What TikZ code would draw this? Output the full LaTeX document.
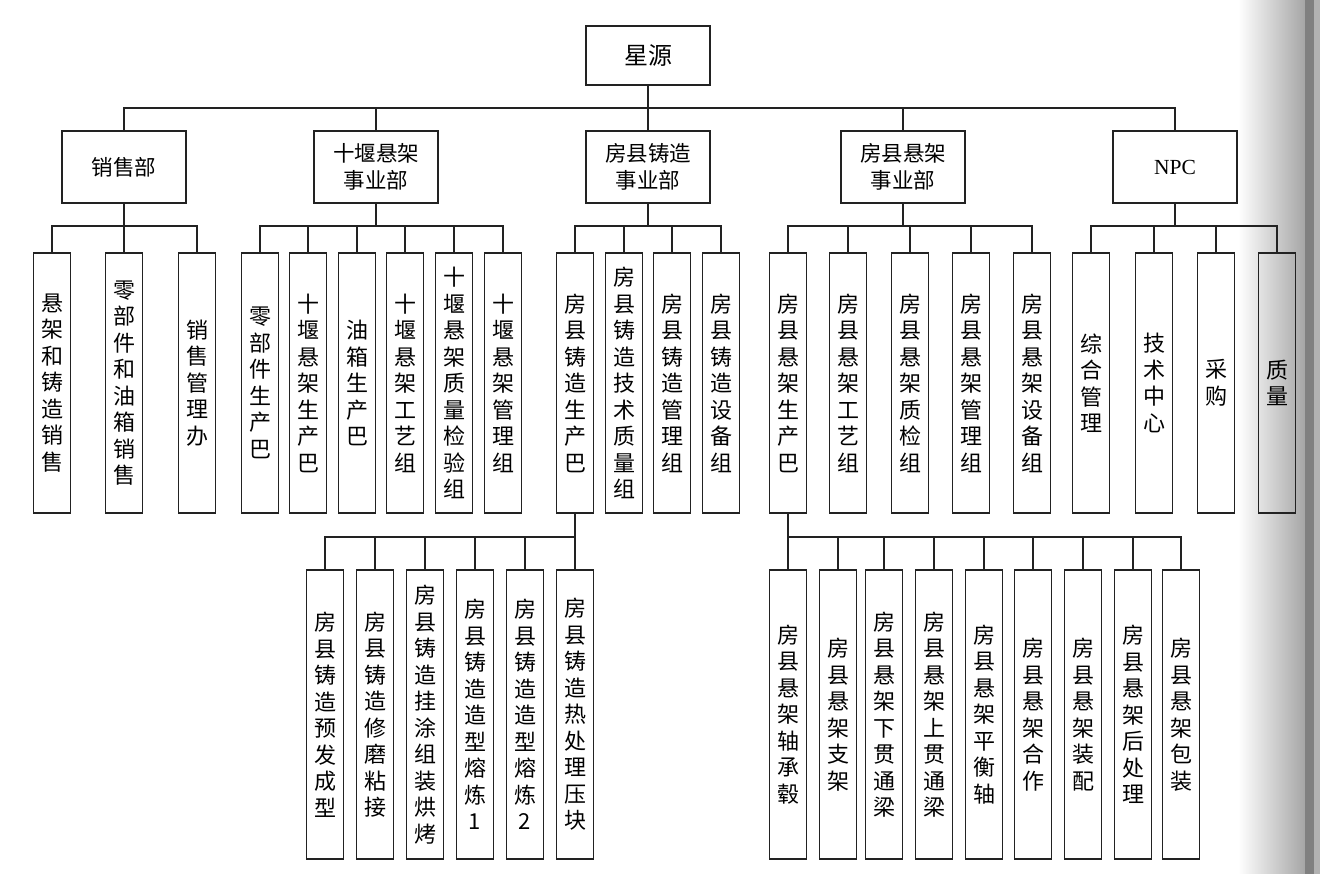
\documentclass[tikz,border=0pt]{standalone}
\usepackage{fontspec}
\setmainfont{Noto Sans CJK SC}
\newfontfamily\latinserif{Liberation Serif}
\ExplSyntaxOn
\NewDocumentCommand\vt{m}{\vbox{\baselineskip=26.5pt\lineskiplimit=-100pt\tl_map_inline:nn{#1}{\hbox_to_wd:nn{1.2em}{\hss##1\hss}}}}
\ExplSyntaxOff
\definecolor{ink}{HTML}{222222}
\tikzset{
  topbox/.style={draw=ink,line width=1.8pt,minimum width=124pt,minimum height=59pt,inner sep=0pt,font=\fontsize{24}{27}\selectfont},
  deptbox/.style={draw=ink,line width=1.8pt,minimum width=124pt,minimum height=72pt,inner sep=0pt,align=center,font=\fontsize{21.5}{27}\selectfont},
  tallbox/.style={draw=ink,line width=1.8pt,minimum width=37pt,minimum height=260pt,inner sep=0pt,font=\fontsize{22}{26}\selectfont},
  lowbox/.style={draw=ink,line width=1.8pt,minimum width=37pt,minimum height=289pt,inner sep=0pt,font=\fontsize{22}{26}\selectfont},
  link/.style={draw=ink,line width=1.5pt}
}
\begin{document}
\begin{tikzpicture}[x=1pt,y=-1pt]
\useasboundingbox (0,0) rectangle (1320,874);
\fill[white] (0,0) rectangle (1320,874);
% page edge shadow
\shade[left color=white,right color=black!35] (1238,0) rectangle (1305,874);
\fill[black!50] (1305,0) rectangle (1320,874);
\fill[black!30] (1314,0) rectangle (1320,874);

% root
\node[topbox] (root) at (648,55.5) {星源};

% level 1
\node[deptbox] (sales) at (124,167) {销售部};
\node[deptbox] (sy) at (376,167) {十堰悬架\\事业部};
\node[deptbox] (fz) at (648,167) {房县铸造\\事业部};
\node[deptbox] (fx) at (903,167) {房县悬架\\事业部};
\node[deptbox] (npc) at (1175,167) {\latinserif NPC};

\coordinate (b0) at (648,108);
\draw[link] (root.south) -- (b0);
\foreach \c in {sales,sy,fz,fx,npc} \draw[link] (b0) -| (\c.north);

% level 2
\node[tallbox] (s1) at (52,383) {\vt{悬架和铸造销售}};
\node[tallbox] (s2) at (124,383) {\vt{零部件和油箱销售}};
\node[tallbox] (s3) at (197,383) {\vt{销售管理办}};

\node[tallbox] (y1) at (260,383) {\vt{零部件生产巴}};
\node[tallbox] (y2) at (308,383) {\vt{十堰悬架生产巴}};
\node[tallbox] (y3) at (357,383) {\vt{油箱生产巴}};
\node[tallbox] (y4) at (405,383) {\vt{十堰悬架工艺组}};
\node[tallbox] (y5) at (454,383) {\vt{十堰悬架质量检验组}};
\node[tallbox] (y6) at (503,383) {\vt{十堰悬架管理组}};

\node[tallbox] (z1) at (575,383) {\vt{房县铸造生产巴}};
\node[tallbox] (z2) at (624,383) {\vt{房县铸造技术质量组}};
\node[tallbox] (z3) at (672,383) {\vt{房县铸造管理组}};
\node[tallbox] (z4) at (721,383) {\vt{房县铸造设备组}};

\node[tallbox] (x1) at (788,383) {\vt{房县悬架生产巴}};
\node[tallbox] (x2) at (848,383) {\vt{房县悬架工艺组}};
\node[tallbox] (x3) at (910,383) {\vt{房县悬架质检组}};
\node[tallbox] (x4) at (971,383) {\vt{房县悬架管理组}};
\node[tallbox] (x5) at (1032,383) {\vt{房县悬架设备组}};

\node[tallbox] (n1) at (1091,383) {\vt{综合管理}};
\node[tallbox] (n2) at (1154,383) {\vt{技术中心}};
\node[tallbox] (n3) at (1216,383) {\vt{采购}};
\node[tallbox] (n4) at (1277,383) {\vt{质量}};

\coordinate (b1) at (124,226);
\draw[link] (sales.south) -- (b1);
\foreach \c in {s1,s2,s3} \draw[link] (b1) -| (\c.north);
\coordinate (b2) at (376,226);
\draw[link] (sy.south) -- (b2);
\foreach \c in {y1,y2,y3,y4,y5,y6} \draw[link] (b2) -| (\c.north);
\coordinate (b3) at (648,226);
\draw[link] (fz.south) -- (b3);
\foreach \c in {z1,z2,z3,z4} \draw[link] (b3) -| (\c.north);
\coordinate (b4) at (903,226);
\draw[link] (fx.south) -- (b4);
\foreach \c in {x1,x2,x3,x4,x5} \draw[link] (b4) -| (\c.north);
\coordinate (b5) at (1175,226);
\draw[link] (npc.south) -- (b5);
\foreach \c in {n1,n2,n3,n4} \draw[link] (b5) -| (\c.north);

% level 3: casting production
\node[lowbox] (c1) at (325,714.5) {\vt{房县铸造预发成型}};
\node[lowbox] (c2) at (375,714.5) {\vt{房县铸造修磨粘接}};
\node[lowbox] (c3) at (425,714.5) {\vt{房县铸造挂涂组装烘烤}};
\node[lowbox] (c4) at (475,714.5) {\vt{房县铸造造型熔炼1}};
\node[lowbox] (c5) at (525,714.5) {\vt{房县铸造造型熔炼2}};
\node[lowbox] (c6) at (575,714.5) {\vt{房县铸造热处理压块}};

\coordinate (b6) at (575,537);
\draw[link] (z1.south) -- (b6);
\foreach \c in {c1,c2,c3,c4,c5,c6} \draw[link] (b6) -| (\c.north);

% level 3: suspension production
\node[lowbox] (p1) at (788,714.5) {\vt{房县悬架轴承毂}};
\node[lowbox] (p2) at (838,714.5) {\vt{房县悬架支架}};
\node[lowbox] (p3) at (884,714.5) {\vt{房县悬架下贯通梁}};
\node[lowbox] (p4) at (934,714.5) {\vt{房县悬架上贯通梁}};
\node[lowbox] (p5) at (984,714.5) {\vt{房县悬架平衡轴}};
\node[lowbox] (p6) at (1033,714.5) {\vt{房县悬架合作}};
\node[lowbox] (p7) at (1083,714.5) {\vt{房县悬架装配}};
\node[lowbox] (p8) at (1133,714.5) {\vt{房县悬架后处理}};
\node[lowbox] (p9) at (1181,714.5) {\vt{房县悬架包装}};

\coordinate (b7) at (788,537);
\draw[link] (x1.south) -- (b7);
\foreach \c in {p1,p2,p3,p4,p5,p6,p7,p8,p9} \draw[link] (b7) -| (\c.north);
\end{tikzpicture}
\end{document}
